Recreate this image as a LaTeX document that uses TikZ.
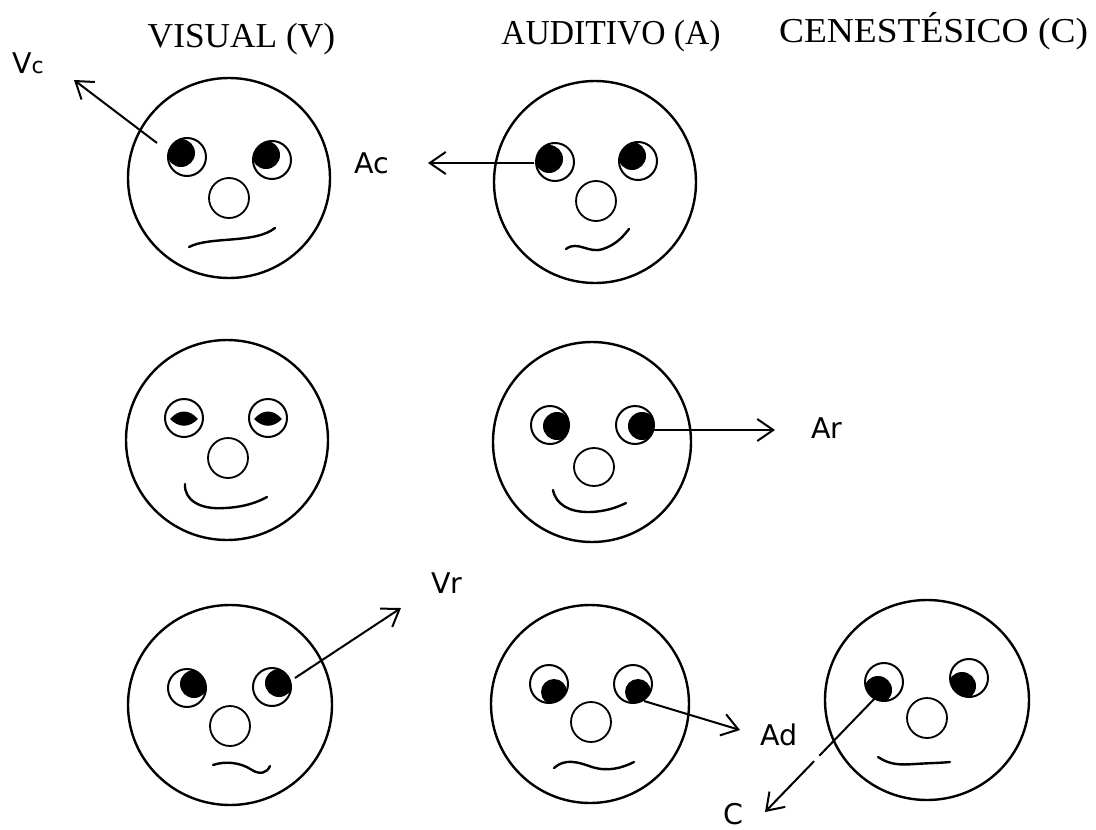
\documentclass[tikz,border=0pt]{standalone}
\usepackage{fontspec}
\setmainfont{Liberation Serif}
\newfontfamily\labelfont{DejaVu Sans}
\usetikzlibrary{arrows.meta,calc}

% one eye: centre (#1,#2), pupil shifted by (#3,#4), pupil radius #5
\newcommand{\drawEye}[5]{%
  \begin{scope}
    \clip (#1,#2) circle[radius=19];
    \fill ({#1+(#3)},{#2+(#4)}) circle[radius=#5];
  \end{scope}
  \draw[eyeline] (#1,#2) circle[radius=19];
}
% closed eye: outline with a lens-shaped pupil in the middle
\newcommand{\drawShutEye}[2]{%
  \fill ({#1-14},{#2+1}) .. controls ({#1-5},{#2-9}) and ({#1+5},{#2-9}) .. ({#1+14},{#2+1})
        .. controls ({#1+5},{#2+10}) and ({#1-5},{#2+10}) .. cycle;
  \draw[eyeline] (#1,#2) circle[radius=19];
}

\tikzset{
  facering/.style={line width=2.4pt},
  eyeline/.style={line width=2pt},
  noseline/.style={line width=1.8pt},
  mouthline/.style={line width=2.4pt, line cap=round},
  pointer/.style={line width=2pt, -{Straight Barb[length=16pt,width=22pt,line width=2pt]}},
  heading/.style={anchor=base, inner sep=0pt, font=\fontsize{35}{40}\selectfont},
  lbl/.style={anchor=base west, inner sep=0pt, font=\labelfont\fontsize{28.5}{33}\selectfont},
}

\begin{document}
\begin{tikzpicture}[x=1pt,y=-1pt]
  \fill[white] (0,0) rectangle (1096,830);
  \useasboundingbox (0,0) rectangle (1096,830);

  % column headings
  \node[heading] (hv) at (241.5,47) {\scalebox{1.01}[1]{VISUAL (V)}};
  \node[heading] (ha) at (611,44) {\scalebox{0.96}[1]{AUDITIVO (A)}};
  \node[heading] (hc) at (933.5,42) {\scalebox{1.07}[1]{CENESTÉSICO (C)}};

  % ---- visual, looking up-left
  \draw[facering] (229,178) ellipse[x radius=101, y radius=100];
  \drawEye{187}{157}{-6}{-4}{14}
  \drawEye{272}{160}{-6}{-5}{14}
  \draw[noseline] (229,198) circle[radius=20];
  \draw[mouthline] (189,247) .. controls (210,236) and (255,244) .. (275,228);

  % ---- auditory, looking left
  \draw[facering] (595,182) ellipse[x radius=101, y radius=101];
  \drawEye{555}{162}{-6}{-3}{14}
  \drawEye{638}{161}{-6}{-5}{14}
  \draw[noseline] (596,201) circle[radius=20];
  \draw[mouthline] (566,249) .. controls (578,240) and (588,254) .. (603,249)
                   .. controls (615,245) and (622,238) .. (629,229);

  % ---- visual, eyes half shut
  \draw[facering] (227,440) ellipse[x radius=101, y radius=100];
  \drawShutEye{184}{418}
  \drawShutEye{268}{418}
  \draw[noseline] (228,458) circle[radius=20];
  \draw[mouthline] (185,484) .. controls (184,500) and (200,510) .. (225,508)
                   .. controls (245,507) and (258,502) .. (267,497);

  % ---- auditory, looking right
  \draw[facering] (592,442) ellipse[x radius=99, y radius=100];
  \drawEye{550}{425}{7}{1}{14}
  \drawEye{635}{425}{7}{1}{14}
  \draw[noseline] (594,467) ellipse[x radius=20, y radius=19];
  \draw[mouthline] (553,490) .. controls (556,505) and (570,512) .. (588,512)
                   .. controls (605,512) and (618,507) .. (626,503);

  % ---- visual, looking up-right
  \draw[facering] (230,705) ellipse[x radius=102, y radius=100];
  \drawEye{187}{688}{7}{-4}{14}
  \drawEye{272}{687}{7}{-4}{14}
  \draw[noseline] (230,726) circle[radius=20];
  \draw[mouthline] (213,765) .. controls (225,761) and (240,762) .. (252,770)
                   .. controls (260,775) and (267,773) .. (270,766);

  % ---- auditory, looking down
  \draw[facering] (590,704) ellipse[x radius=99, y radius=99];
  \drawEye{549}{684}{5}{8}{13}
  \drawEye{633}{684}{5}{8}{13}
  \draw[noseline] (591,722) circle[radius=20];
  \draw[mouthline] (554,768) .. controls (565,758) and (578,762) .. (592,767)
                   .. controls (608,772) and (622,768) .. (634,762);

  % ---- kinesthetic, looking down-left
  \draw[facering] (927,700) ellipse[x radius=102, y radius=100];
  \drawEye{884}{682}{-6}{8}{14}
  \drawEye{969}{678}{-7}{8}{14}
  \draw[noseline] (927,718) circle[radius=20];
  \draw[mouthline] (878,757) .. controls (890,765) and (900,765) .. (915,764)
                   .. controls (930,763) and (940,763) .. (950,762);

  % labels
  \node[lbl] (vc) at (12,73) {V{\fontsize{22}{26}\selectfont c}};
  \node[lbl] (ac) at (354,173) {Ac};
  \node[lbl] (ar) at (811,438) {Ar};
  \node[lbl] (vr) at (431,593) {Vr};
  \node[lbl] (ad) at (760,745) {Ad};
  \node[lbl] (cl) at (723,824) {C};

  % pointer ends
  \coordinate (vcfrom) at (157,143);  \coordinate (vcto) at (74,80);
  \coordinate (acfrom) at (534,163);  \coordinate (acto) at (428,163);
  \coordinate (arfrom) at (654,430);  \coordinate (arto) at (775,430);
  \coordinate (vrfrom) at (295,678);  \coordinate (vrto) at (401,608);
  \coordinate (adfrom) at (644,701);  \coordinate (adto) at (740,730);
  \coordinate (cfrom)  at (878,695);  \coordinate (cto)  at (765,812);

  \draw[pointer] (vcfrom) -- (vcto);
  \draw[pointer] (acfrom) -- (acto);
  \draw[pointer] (arfrom) -- (arto);
  \draw[pointer] (vrfrom) -- (vrto);
  \draw[pointer] (adfrom) -- (adto);
  \draw[pointer] (cfrom) -- (cto);
  % small break in the kinesthetic pointer
  \draw[white, line width=4pt] ($(cfrom)!0.52!(cto)$) -- ($(cfrom)!0.565!(cto)$);
\end{tikzpicture}
\end{document}
